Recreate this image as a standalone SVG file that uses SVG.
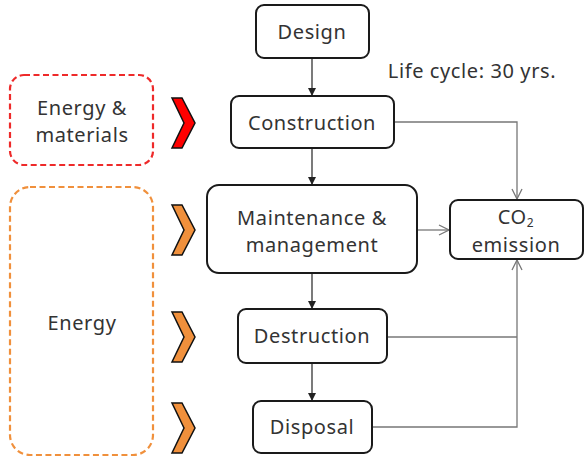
<svg xmlns="http://www.w3.org/2000/svg" width="586" height="459" viewBox="0 0 586 459">
<style>
.box{fill:#fff;stroke:#1a1a1a;stroke-width:2}
.t{font-family:"Noto Sans","Open Sans",sans-serif;font-size:20px;letter-spacing:0.6px;fill:#333;text-anchor:middle}
.main{stroke:#222;stroke-width:1.2;fill:none}
.gray{stroke:#777;stroke-width:1.3;fill:none}
.chev{stroke:#111;stroke-width:1.5;stroke-linejoin:miter}
</style>
<defs>
<marker id="fill" viewBox="0 0 10 10" refX="10" refY="5" markerWidth="8" markerHeight="8" markerUnits="userSpaceOnUse" orient="auto"><path d="M0,0 L10,5 L0,10 z" fill="#222"/></marker>
<marker id="open" viewBox="0 0 12 12" refX="11" refY="6" markerWidth="12" markerHeight="12" markerUnits="userSpaceOnUse" orient="auto"><path d="M1,1 L11,6 L1,11" fill="none" stroke="#777" stroke-width="1.3"/></marker>
</defs>
<g id="energy-materials"><rect x="10" y="75" width="143" height="90" rx="14" fill="#fff" stroke="#ee2a2a" stroke-width="2.2" stroke-dasharray="6,3.5"/><text class="t" x="82" y="115">Energy &amp;</text><text class="t" x="82" y="142">materials</text></g>
<g id="energy"><rect x="10" y="187" width="143" height="268" rx="20" fill="#fff" stroke="#f0903c" stroke-width="2.2" stroke-dasharray="6,3.5"/><text class="t" x="82" y="330">Energy</text></g>
<g id="chevrons">
<polygon class="chev" fill="#ff0000" points="172,98 182,98 195,123 182,148 172,148 184,123"/>
<polygon class="chev" fill="#f0903c" points="172,205 182,205 195,230 182,255 172,255 184,230"/>
<polygon class="chev" fill="#f0903c" points="172,312 182,312 195,337 182,362 172,362 184,337"/>
<polygon class="chev" fill="#f0903c" points="172,403 182,403 195,428 182,453 172,453 184,428"/>
</g>
<g id="connectors">
<line class="main" x1="312" y1="58" x2="312" y2="96" marker-end="url(#fill)"/>
<line class="main" x1="312" y1="148" x2="312" y2="185" marker-end="url(#fill)"/>
<line class="main" x1="312" y1="273" x2="312" y2="309" marker-end="url(#fill)"/>
<line class="main" x1="312" y1="363" x2="312" y2="401" marker-end="url(#fill)"/>
<polyline class="gray" points="394,122 517,122 517,199" marker-end="url(#open)"/>
<line class="gray" x1="417" y1="230" x2="449" y2="230" marker-end="url(#open)"/>
<polyline class="gray" points="387,337 517,337"/>
<polyline class="gray" points="372,427 517,427 517,260" marker-end="url(#open)"/>
</g>
<g id="design"><rect class="box" x="256" y="5" width="113" height="53" rx="8"/><text class="t" x="312" y="39">Design</text></g>
<text class="t" x="472" y="78">Life cycle: 30 yrs.</text>
<g id="construction"><rect class="box" x="231" y="96" width="163" height="52" rx="8"/><text class="t" x="312" y="130">Construction</text></g>
<g id="maintenance"><rect class="box" x="207" y="185" width="210" height="88" rx="12"/><text class="t" x="312" y="225">Maintenance &amp;</text><text class="t" x="312" y="252">management</text></g>
<g id="co2"><rect class="box" x="450" y="200" width="133" height="59" rx="8"/><text class="t" x="516" y="224">CO<tspan font-size="12" dy="3">2</tspan></text><text class="t" x="516" y="252">emission</text></g>
<g id="destruction"><rect class="box" x="238" y="309" width="149" height="54" rx="8"/><text class="t" x="312" y="343">Destruction</text></g>
<g id="disposal"><rect class="box" x="253" y="401" width="119" height="52" rx="8"/><text class="t" x="312" y="434">Disposal</text></g>
</svg>
